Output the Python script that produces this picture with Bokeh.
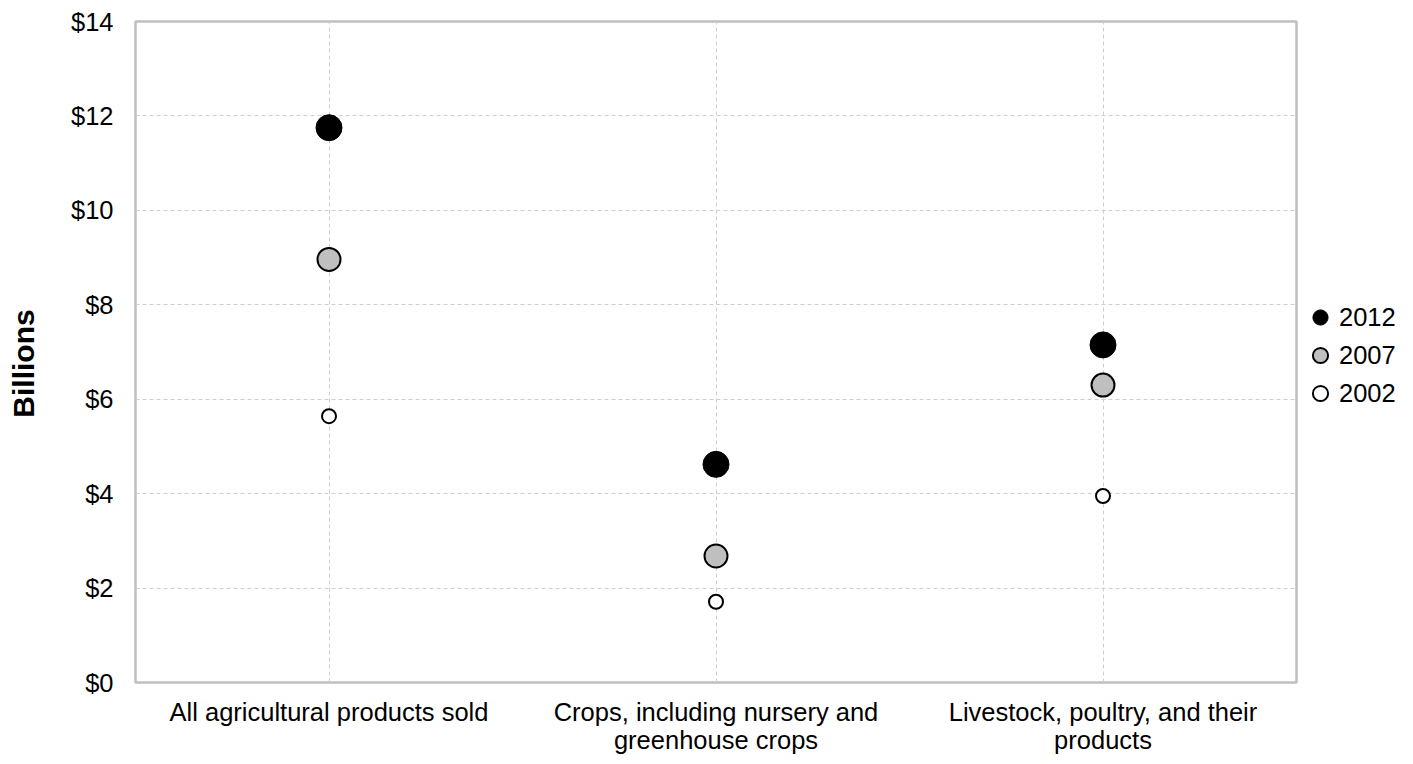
import math
from bokeh.plotting import figure
from bokeh.layouts import row
from bokeh.models import Range1d, FactorRange, FixedTicker, Legend, LegendItem, ColumnDataSource, Label
from bokeh.embed import file_html
from bokeh.resources import INLINE

categories = ["All agricultural products sold",
              "Crops, including nursery and\ngreenhouse crops",
              "Livestock, poultry, and their\nproducts"]
years = ["2012", "2007", "2002"]
values_2012 = [11.75, 4.62, 7.15]
values_2007 = [8.96, 2.68, 6.30]
values_2002 = [5.64, 1.71, 3.95]
y_ticks = [0, 2, 4, 6, 8, 10, 12, 14]
y_tick_labels = ["$0", "$2", "$4", "$6", "$8", "$10", "$12", "$14"]
y_title = "Billions"

FONT = "Liberation Sans"
H = 756

src = ColumnDataSource(dict(cat=categories, v2012=values_2012, v2007=values_2007, v2002=values_2002))

styles = {
    "v2012": dict(size=26, fill_color="black", line_color="black", line_width=1),
    "v2007": dict(size=23, fill_color="#bfbfbf", line_color="black", line_width=2),
    "v2002": dict(size=14, fill_color="white", line_color="black", line_width=2),
}


def blank(fig):
    fig.axis.visible = False
    fig.grid.visible = False
    fig.outline_line_color = None


# y-axis title panel
pt = figure(x_range=Range1d(0, 1), y_range=Range1d(0, 1), width=40, height=H,
            min_border_left=0, min_border_right=0, min_border_top=0, min_border_bottom=0,
            output_backend="svg", toolbar_location=None)
blank(pt)
pt.add_layout(Label(x=22.5, y=319, x_units="screen", y_units="screen", text=y_title,
                    angle=math.pi / 2, text_align="center", text_baseline="middle",
                    text_font=FONT, text_font_size="30px", text_font_style="bold",
                    text_color="black"))

# main chart
p = figure(x_range=FactorRange(factors=categories), y_range=Range1d(0, 14),
           width=1260, height=H,
           min_border_left=95, min_border_top=21, min_border_bottom=72, min_border_right=4,
           output_backend="svg", toolbar_location=None)

p.outline_line_color = "#bfbfbf"
p.outline_line_width = 2.5

p.xgrid.grid_line_color = "#cfcfcf"
p.xgrid.grid_line_dash = "4 3"
p.ygrid.grid_line_color = "#cfcfcf"
p.ygrid.grid_line_dash = "4 3"

p.yaxis.ticker = FixedTicker(ticks=y_ticks)
p.yaxis.major_label_overrides = {t: l for t, l in zip(y_ticks, y_tick_labels)}
for ax in (p.xaxis, p.yaxis):
    ax.axis_line_color = None
    ax.major_tick_line_color = None
    ax.minor_tick_line_color = None
    ax.major_tick_out = 0
    ax.major_tick_in = 0
    ax.major_label_text_font = FONT
    ax.major_label_text_font_size = "25.5px"
    ax.major_label_text_color = "black"
p.yaxis.major_label_standoff = 22
p.xaxis.major_label_standoff = 15
p.xaxis.major_label_text_line_height = 1.0

for key in ["v2002", "v2007", "v2012"]:
    p.scatter("cat", key, source=src, **styles[key])

# legend panel (same data, out of its visible range, only the legend shows)
pl = figure(x_range=p.x_range, y_range=Range1d(100, 101), width=97, height=H,
            min_border_left=0, min_border_right=0, min_border_top=0, min_border_bottom=0,
            output_backend="svg", toolbar_location=None)
blank(pl)

leg_renderers = {key: pl.scatter("cat", key, source=src, **styles[key]) for key in ["v2012", "v2007", "v2002"]}

legend = Legend(items=[LegendItem(label=years[0], renderers=[leg_renderers["v2012"]]),
                       LegendItem(label=years[1], renderers=[leg_renderers["v2007"]]),
                       LegendItem(label=years[2], renderers=[leg_renderers["v2002"]])],
                location=(1, 270), orientation="vertical",
                glyph_width=38, glyph_height=38, spacing=0, label_standoff=0,
                label_text_font=FONT, label_text_font_size="25.5px", label_text_color="black",
                label_height=38,
                padding=0, margin=0, border_line_color=None, background_fill_alpha=0)
pl.add_layout(legend)

layout = row(pt, p, pl, spacing=0)
open("out.html", "w").write(file_html(layout, INLINE))
